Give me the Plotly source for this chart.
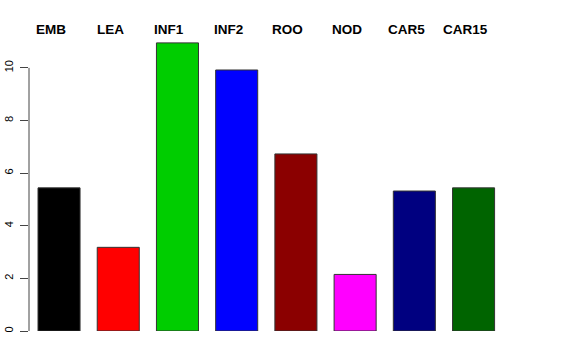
import plotly.graph_objects as go

categories = ["EMB", "LEA", "INF1", "INF2", "ROO", "NOD", "CAR5", "CAR15"]
values = [5.44, 3.18, 10.95, 9.92, 6.73, 2.15, 5.32, 5.44]
colors = ["#000000", "#FF0000", "#00CD00", "#0000FF", "#8B0000", "#FF00FF", "#000080", "#006400"]
y_ticks = [0, 2, 4, 6, 8, 10]

x_pos = list(range(len(categories)))

fig = go.Figure()
fig.add_trace(go.Bar(
    x=x_pos, y=values, width=0.71,
    marker=dict(color=colors, line=dict(color="#333333", width=1)),
    showlegend=False, hoverinfo="skip",
))

for i, c in enumerate(categories):
    fig.add_annotation(x=i, y=1, xref="x", yref="paper", yanchor="bottom",
                       yshift=1, xshift=-8, text="<b>%s</b>" % c, showarrow=False,
                       font=dict(size=13.5, color="black", family="Liberation Sans, Arial, sans-serif"))

fig.add_shape(type="line", xref="paper", yref="y", x0=0, x1=0, y0=min(y_ticks), y1=max(y_ticks),
              line=dict(color="#444444", width=1))

fig.update_layout(
    width=576, height=360,
    margin=dict(l=29, r=29, t=40, b=29, autoexpand=False),
    paper_bgcolor="white", plot_bgcolor="white",
    font=dict(family="Liberation Sans, Arial, sans-serif", color="black"),
    xaxis=dict(range=[-0.507, 8.24], showticklabels=False, showgrid=False, zeroline=False,
               showline=False, ticks="", automargin=False),
    yaxis=dict(range=[0, 11.06], tickvals=y_ticks, ticktext=[str(v) for v in y_ticks],
               tickangle=-90, ticks="outside", ticklen=8, tickcolor="#444444",
               tickfont=dict(size=11, color="black"), showgrid=False, zeroline=False,
               showline=False, ticklabelstandoff=3, automargin=False),
)

fig.write_html("out.html", config={"displayModeBar": False},
               post_script="document.body.style.margin='0';document.body.style.padding='0';")
